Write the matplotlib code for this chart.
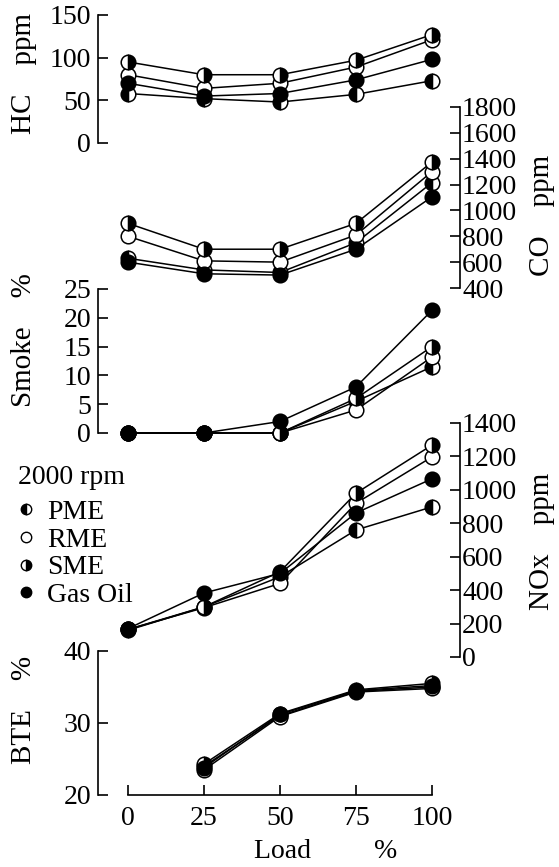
import numpy as np
import matplotlib
matplotlib.use("Agg")
import matplotlib.pyplot as plt
from matplotlib.lines import Line2D

plt.rcParams['font.family'] = ['Liberation Serif', 'DejaVu Serif']

# ---------------------------
# data
# ---------------------------
load = [0, 25, 50, 75, 100]
fuels = ["PME", "RME", "SME", "Gas Oil"]

hc = {"PME": [58, 52, 48, 57, 73],
      "RME": [80, 64, 70, 89, 121],
      "SME": [95, 80, 80, 97, 127],
      "Gas Oil": [70, 55, 58, 74, 98]}

co = {"PME": [630, 540, 520, 750, 1215],
      "RME": [800, 610, 600, 810, 1300],
      "SME": [900, 700, 700, 900, 1375],
      "Gas Oil": [600, 510, 500, 700, 1105]}

smoke = {"PME": [0, 0, 0, 5.5, 11.5],
         "RME": [0, 0, 0, 4, 13.2],
         "SME": [0, 0, 0, 6, 15],
         "Gas Oil": [0, 0, 2, 8, 21.3]}

nox = {"PME": [160, 300, 480, 760, 898],
       "RME": [165, 295, 440, 920, 1197],
       "SME": [165, 300, 510, 980, 1268],
       "Gas Oil": [170, 383, 500, 862, 1066]}

bte = {"PME": [np.nan, 24.0, 31.0, 34.4, 35.0],
       "RME": [np.nan, 23.5, 30.9, 34.3, 34.8],
       "SME": [np.nan, 24.3, 31.3, 34.6, 35.5],
       "Gas Oil": [np.nan, 23.8, 31.2, 34.5, 35.2]}

style = {"PME": dict(fillstyle="left", markerfacecolor="k", markerfacecoloralt="w"),
         "RME": dict(fillstyle="full", markerfacecolor="w"),
         "SME": dict(fillstyle="right", markerfacecolor="k", markerfacecoloralt="w"),
         "Gas Oil": dict(fillstyle="full", markerfacecolor="k")}

# ---------------------------
# layout (pixels)
# ---------------------------
W, H = 559, 867
fig = plt.figure(figsize=(W / 100, H / 100), dpi=100)
X0, X1 = 98, 460      # left / right spines
XD0, XD1 = 128, 432   # load 0 / 100
k = 100 / (XD1 - XD0)
xlim = (-(XD0 - X0) * k, 100 + (X1 - XD1) * k)
FS = 20     # tick labels
LFS = 21    # axis titles


def panel(top, bot, ylim, ticks, side):
    ax = fig.add_axes([X0 / W, 1 - bot / H, (X1 - X0) / W, (bot - top) / H])
    ax.patch.set_alpha(0)
    ax.set_xlim(*xlim)
    ax.set_ylim(*ylim)
    for s in ax.spines.values():
        s.set_visible(False)
    sp = ax.spines[side]
    sp.set_visible(True)
    sp.set_linewidth(1.2)
    sp.set_bounds(*ylim)
    ax.yaxis.set_ticks_position(side)
    ax.set_yticks(ticks)
    ax.tick_params(axis="y", direction="in", length=7, width=1.2,
                   labelsize=FS, pad=5 if side == "left" else 1.5)
    ax.set_xticks([])
    return ax


def draw(ax, data):
    for f in fuels:
        ax.plot(load, data[f], color="k", lw=1.1, marker="o", ms=10.5,
                markeredgecolor="k", markeredgewidth=1.1, clip_on=False,
                **style[f])


ax_hc = panel(15, 143, (0, 150), [0, 50, 100, 150], "left")
draw(ax_hc, hc)
ax_co = panel(107, 288, (400, 1800), range(400, 1801, 200), "right")
draw(ax_co, co)
ax_sm = panel(289, 433, (0, 25), range(0, 26, 5), "left")
draw(ax_sm, smoke)
ax_nx = panel(423, 657, (0, 1400), range(0, 1401, 200), "right")
draw(ax_nx, nox)
ax_bt = panel(651, 795, (20, 40), [20, 30, 40], "left")
draw(ax_bt, bte)

# x axis on the bottom panel only
ax_bt.spines["bottom"].set_visible(True)
ax_bt.spines["bottom"].set_linewidth(1.2)
ax_bt.spines["bottom"].set_bounds(0, 100)
ax_bt.set_xticks(load)
ax_bt.tick_params(axis="x", direction="in", length=7, width=1.2,
                  labelsize=FS, pad=8)

# axis titles
def ytext(x, y, s):
    fig.text(x / W, 1 - y / H, s, rotation=90, ha="center", va="center",
             fontsize=LFS)

ytext(24, 74, "HC    ppm")
ytext(24, 340, "Smoke    %")
ytext(24, 710, "BTE    %")
ytext(542, 215, "CO    ppm")
ytext(542, 541, "NOx    ppm")
fig.text(326 / W, 1 - 852 / H, "Load         %", ha="center", va="center",
         fontsize=FS)

# legend
handles = [Line2D([], [], ls="none", marker="o", ms=7.5, markeredgecolor="k",
                  markeredgewidth=1.0, **style[f]) for f in fuels]
leg = fig.legend(handles, fuels, loc="upper left",
                 bbox_to_anchor=(18 / W, 1 - 465 / H), frameon=False,
                 title="2000 rpm", title_fontsize=FS, fontsize=FS,
                 handlelength=0.6, handletextpad=0.45, labelspacing=0.08,
                 borderpad=0, borderaxespad=0, alignment="left")
leg._legend_box.sep = 7

fig.savefig("out.png", dpi=100)
